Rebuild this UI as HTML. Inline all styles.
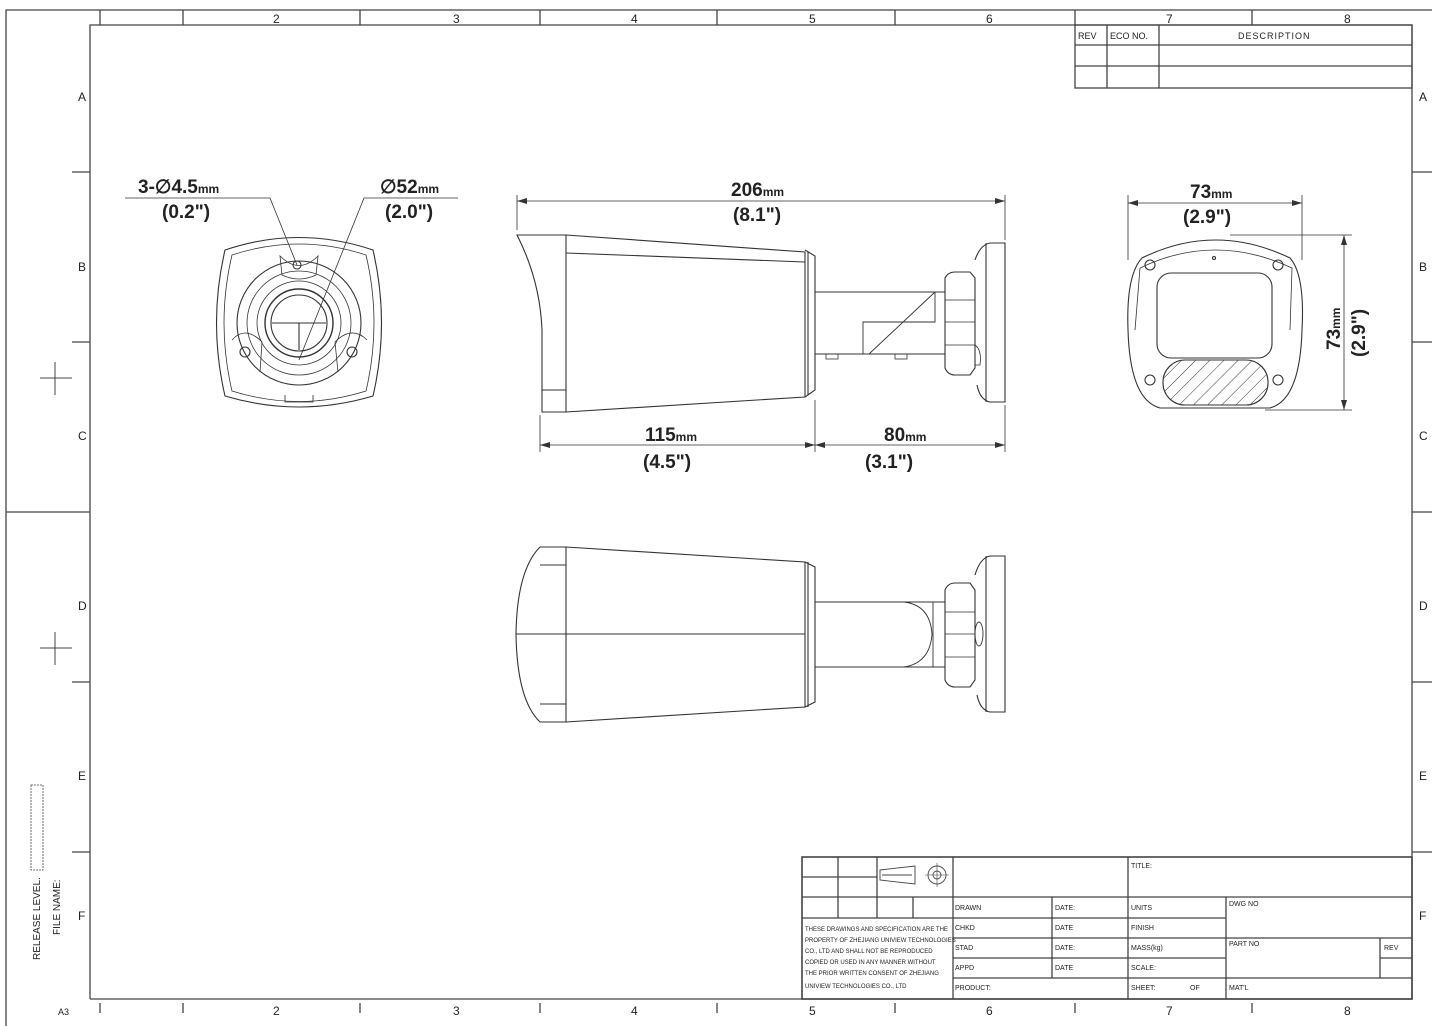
<!DOCTYPE html>
<html><head><meta charset="utf-8"><style>
html,body{margin:0;padding:0;background:#fff;}
svg{display:block;}
text{font-family:"Liberation Sans",sans-serif;fill:#222;}
.s{font-size:7px;}
.z{font-size:12px;}
.d{font-size:19px;font-weight:bold;}
</style></head><body>
<svg width="1439" height="1026" viewBox="0 0 1439 1026" xmlns="http://www.w3.org/2000/svg">
<defs><pattern id="h" width="10" height="10" patternUnits="userSpaceOnUse" patternTransform="rotate(45)"><line x1="0" y1="0" x2="0" y2="10" stroke="#333" stroke-width="1"/></pattern></defs>
<g fill="none" stroke="#444" stroke-width="1.3">
<!-- frames -->
<polyline points="6,1026 6,10 1432,10"/>
<polyline points="90,999 90,25 1412,25 1412,999 90,999"/>
<!-- top/bottom ticks -->
<path d="M100,10V25M183,10V25M360,10V25M540,10V25M717,10V25M895,10V25M1075,10V25M1252,10V25"/>
<path d="M100,1003V1013M183,1003V1013M360,1003V1013M540,1003V1013M717,1003V1013M895,1003V1013M1075,1003V1013M1252,1003V1013"/>
<path d="M72,172H90M72,342H90M6,512H90M72,682H90M72,852H90"/>
<path d="M1412,172H1432M1412,342H1432M1412,512H1432M1412,682H1432M1412,852H1432"/>
<path d="M40,378H72M55,362V395M40,648H72M55,632V665" stroke-width="1"/>
<rect x="31" y="785" width="12" height="85" stroke-dasharray="2,1" stroke-width="0.8"/>
<!-- rev table -->
<rect x="1075" y="25" width="337" height="63"/>
<path d="M1075,45H1412M1075,66H1412M1107,25V88M1159,25V88"/>
<!-- title block -->
<rect x="802" y="857" width="610" height="142" stroke-width="1.6"/>
<path d="M802,897H1128M953,857V999M1128,857V999M802,877H877M838,857V918M877,857V918M913,897V918M802,918H953"/>
<path d="M953,918H1128M953,938H1128M953,958H1128M953,978H1412M1052,897V978"/>
<path d="M1128,897H1412M1128,918H1226M1128,938H1412M1128,958H1226M1380,958H1412M1226,897V999M1380,938V978"/>
<path d="M880,870L915,866V884L880,880Z M882,875H912" stroke-width="0.9"/>
<circle cx="937" cy="875" r="9" stroke-width="0.9"/><circle cx="937" cy="875" r="4" stroke-width="0.9"/>
<path d="M925,875H949M937,863V887" stroke-width="0.6"/>
</g>
<!-- zone labels -->
<g class="z">
<text x="273" y="23">2</text><text x="453" y="23">3</text><text x="631" y="23">4</text><text x="809" y="23">5</text><text x="986" y="23">6</text><text x="1166" y="23">7</text><text x="1344" y="23">8</text>
<text x="273" y="1015">2</text><text x="453" y="1015">3</text><text x="631" y="1015">4</text><text x="809" y="1015">5</text><text x="986" y="1015">6</text><text x="1166" y="1015">7</text><text x="1344" y="1015">8</text>
<text x="78" y="101">A</text><text x="78" y="271">B</text><text x="78" y="440">C</text><text x="78" y="610">D</text><text x="78" y="780">E</text><text x="78" y="920">F</text>
<text x="1419" y="101">A</text><text x="1419" y="271">B</text><text x="1419" y="440">C</text><text x="1419" y="610">D</text><text x="1419" y="780">E</text><text x="1419" y="920">F</text>
<text x="58" y="1015" style="font-size:9px">A3</text>
</g>
<text transform="translate(40,960) rotate(-90)" style="font-size:10px">RELEASE LEVEL.</text>
<text transform="translate(60,935) rotate(-90)" style="font-size:10px">FILE NAME:</text>
<g style="font-size:9px"><text x="1078" y="39">REV</text><text x="1110" y="39">ECO NO.</text><text x="1238" y="39" letter-spacing="1">DESCRIPTION</text></g>
<!-- title block text -->
<g class="s">
<text x="1131" y="868">TITLE:</text>
<text x="955" y="910">DRAWN</text><text x="1055" y="910">DATE:</text><text x="1131" y="910">UNITS</text><text x="1229" y="906">DWG NO</text>
<text x="955" y="930">CHKD</text><text x="1055" y="930">DATE</text><text x="1131" y="930">FINISH</text>
<text x="955" y="950">STAD</text><text x="1055" y="950">DATE:</text><text x="1131" y="950">MASS(kg)</text><text x="1229" y="946">PART NO</text><text x="1384" y="950">REV</text>
<text x="955" y="970">APPD</text><text x="1055" y="970">DATE</text><text x="1131" y="970">SCALE:</text>
<text x="955" y="990">PRODUCT:</text><text x="1131" y="990">SHEET:</text><text x="1190" y="990">OF</text><text x="1229" y="990">MAT'L</text>
<text x="805" y="931" style="font-size:6px">THESE DRAWINGS AND SPECIFICATION ARE THE</text>
<text x="805" y="942" style="font-size:6px">PROPERTY OF ZHEJIANG UNIVIEW TECHNOLOGIES</text>
<text x="805" y="953" style="font-size:6px">CO., LTD AND SHALL NOT BE REPRODUCED</text>
<text x="805" y="964" style="font-size:6px">COPIED OR USED IN ANY MANNER WITHOUT</text>
<text x="805" y="975" style="font-size:6px">THE PRIOR WRITTEN CONSENT OF ZHEJIANG</text>
<text x="805" y="988" style="font-size:6px">UNIVIEW TECHNOLOGIES CO., LTD</text>
</g>

<!-- ===== drawing geometry ===== -->
<g fill="none" stroke="#333" stroke-width="1.1">
<!-- left front view -->
<path d="M225,250 Q299,225 373,250 Q390,323 373,396 Q299,418 225,396 Q208,323 225,250Z"/>
<path d="M232,255 Q299,233 366,255 Q382,323 366,391 Q299,412 232,391 Q216,323 232,255Z" stroke-width="0.8"/>
<circle cx="299" cy="323" r="62"/>
<circle cx="299" cy="323" r="52" stroke-width="0.8"/>
<circle cx="299" cy="323" r="42" stroke-width="0.8"/>
<circle cx="299" cy="323" r="34" stroke-width="1.4"/>
<circle cx="299" cy="323" r="28"/>
<path d="M272,323H326M299,323V350"/>
<path d="M280,256 Q299,275 318,256 L316,275 Q299,283 282,275Z" stroke-width="0.8"/>
<circle cx="297" cy="265" r="4"/>
<circle cx="245" cy="352" r="5"/><circle cx="352" cy="352" r="5"/>
<path d="M232,340 Q245,325 262,342 L260,372 M367,340 Q352,325 335,342 L338,372" stroke-width="0.8"/>
<path d="M285,395V402H313V395" stroke-width="0.8"/>
<!-- leaders -->
<path d="M125,198H270L297,265 M458,198H364L299,360" stroke-width="0.8"/>

<!-- side view -->
<path d="M517,235 Q540,280 542,330 L542,412 H566 V235 Z"/>
<path d="M517,235 H566 L805,252 V397 L566,412"/>
<path d="M566,253 L805,262"/>
<path d="M542,390H566"/>
<path d="M805,250 L815,256 V390 L805,397 M808,252V395"/>
<path d="M815,292 H945 M815,354 H945 M863,354 V322 H935 V292 M869,354 L935,292" stroke-width="0.9"/>
<rect x="826" y="354" width="12" height="5" stroke-width="0.8"/><rect x="895" y="354" width="12" height="5" stroke-width="0.8"/>
<path d="M945,278 Q948,272 955,272 H970 L975,278 V368 L970,375 H955 Q948,375 945,368 Z"/>
<path d="M945,300H975M945,322H975M945,345H975" stroke-width="0.7"/>
<path d="M975,260 Q980,245 990,243 H1005 V402 H990 Q980,400 977,385" />
<path d="M986,243V402"/>
<path d="M975,345 Q982,350 980,365 L975,365" stroke-width="0.8"/>

<!-- dims side -->
<path d="M517,230V195M1005,240V195M517,201H1005" stroke-width="0.8"/>
<path d="M540,415V452M815,400V452M1005,405V452M540,445H1005" stroke-width="0.8"/>

<!-- right end view -->
<path d="M1142,258 Q1215,222 1290,258 Q1305,275 1302,330 Q1300,400 1270,408 H1160 Q1130,400 1128,330 Q1126,275 1142,258Z"/>
<path d="M1140,268 Q1215,232 1292,268 L1290,330" stroke-width="0.8"/>
<path d="M1140,268 L1135,330" stroke-width="0.8"/>
<rect x="1157" y="273" width="115" height="85" rx="14"/>
<rect x="1163" y="360" width="105" height="45" rx="22" fill="url(#h)"/>
<circle cx="1150" cy="265" r="5"/><circle cx="1278" cy="265" r="5"/>
<circle cx="1150" cy="380" r="5"/><circle cx="1278" cy="380" r="5"/>
<circle cx="1214" cy="258" r="1.5"/>
<path d="M1128,195V260M1302,195V260M1128,203H1302" stroke-width="0.8"/>
<path d="M1230,235H1352M1265,410H1352M1344,235V410" stroke-width="0.8"/>

<!-- bottom view -->
<path d="M540,547 Q517,570 516,634 Q517,700 540,722 H566 V547 Z"/>
<path d="M566,547 L805,562 V707 L566,722"/>
<path d="M516,634H805 M540,565H566 M566,705H566 M540,704H566"/>
<path d="M805,562 L815,567 V702 L805,707 M808,562V707"/>
<path d="M815,602H945M815,667H945"/>
<path d="M904,602 Q930,605 932,634 Q930,663 904,667 M933,602V667" stroke-width="0.9"/>
<path d="M945,590 Q948,583 955,583 H970 L975,590 V680 L970,687 H955 Q948,687 945,680 Z"/>
<path d="M945,612H975M945,634H975M945,657H975" stroke-width="0.7"/>
<path d="M975,575 Q980,558 990,556 H1005 V712 H990 Q980,710 977,695"/>
<path d="M986,556V712"/>
<ellipse cx="979" cy="634" rx="4" ry="12" stroke-width="0.9"/>
</g>
<!-- arrowheads -->
<g fill="#333">
<path d="M517,201l10,-3v6z M1005,201l-10,-3v6z"/>
<path d="M540,445l10,-3v6z M815,445l-10,-3v6z M815,445l10,-3v6z M1005,445l-10,-3v6z"/>
<path d="M1128,203l10,-3v6z M1302,203l-10,-3v6z"/>
<path d="M1344,235l-3,10h6z M1344,410l-3,-10h6z"/>
</g>
<!-- dim text -->
<g class="d">
<text x="138" y="193">3-∅4.5<tspan style="font-size:12px">mm</tspan></text>
<text x="162" y="218">(0.2")</text>
<text x="380" y="193">∅52<tspan style="font-size:12px">mm</tspan></text>
<text x="385" y="218">(2.0")</text>
<text x="731" y="196">206<tspan style="font-size:12px">mm</tspan></text>
<text x="733" y="221">(8.1")</text>
<text x="645" y="441">115<tspan style="font-size:12px">mm</tspan></text>
<text x="643" y="468">(4.5")</text>
<text x="884" y="441">80<tspan style="font-size:12px">mm</tspan></text>
<text x="865" y="468">(3.1")</text>
<text x="1190" y="198">73<tspan style="font-size:12px">mm</tspan></text>
<text x="1183" y="223">(2.9")</text>
<text transform="translate(1340,350) rotate(-90)">73<tspan style="font-size:12px">mm</tspan></text>
<text transform="translate(1365,357) rotate(-90)">(2.9")</text>
</g>
</svg>
</body></html>
